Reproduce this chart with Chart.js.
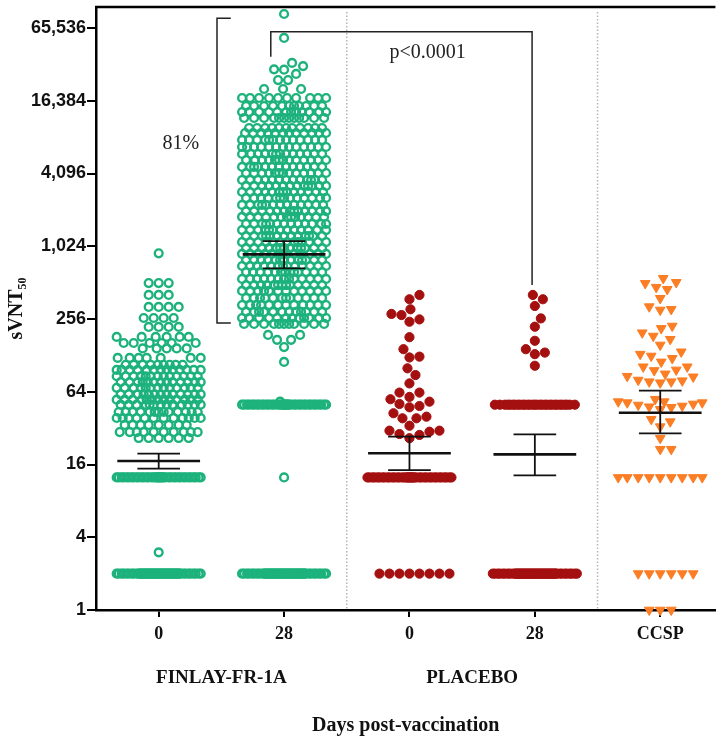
<!DOCTYPE html>
<html>
<head>
<meta charset="utf-8">
<script src="https://cdn.jsdelivr.net/npm/chart.js@4.4.0/dist/chart.umd.min.js"></script>
<style>
  html, body { margin: 0; padding: 0; background: #fff; }
</style>
</head>
<body>
<canvas id="chart" width="722" height="744"></canvas>
<script>
// === sVNT50 titres: [titre, subjects at that titre] ===
const groupTicks = ['0', '28', '0', '28', 'CCSP'];
const groupNames = ['FINLAY-FR-1A', 'PLACEBO'];
const yTicks = [1, 4, 16, 64, 256, 1024, 4096, 16384, 65536];

const finlay0 = [
  [895,1],[508,3],[405,3],[322,4],[261,4],[220,4],[182,6],[162,6],[146,5],[122,7],[107,9],
  [97,13],[86,13],[77,13],[69,13],[61,13],[55,13],[50,13],[43.5,13],[38.8,12],[34,8],
  [29.7,10],[26.5,6],[12.5,40],[3,1],[2,60]
];
const finlay28 = [
  [85600,1],[54200,1],[33700,1],[31700,1],[29800,1],[29600,1],[27300,1],[24300,2],[20500,3],
  [17270,10],[14830,11],[13220,12],[11800,12],[9750,11],[8860,12],[7760,13],[6790,13],
  [5940,13],[5300,13],[4640,13],[4136,13],[3620,13],[3230,13],[2880,13],[2570,13],[2250,13],
  [2000,13],[1790,13],[1565,13],[1395,13],[1245,13],[1110,13],[990,13],[884,13],[788,13],
  [703,13],[627,13],[549,13],[489,13],[437,12],[382,12],[334,12],[293,12],[261,12],[233,11],
  [189,2],[172,2],[150,1],[113,1],[53,1],[50,40],[12.5,1],[2,60]
];
const placebo0 = [
  [405,1],[373,1],[308,1],[282,1],[276,1],[254,1],[243,1],[181,1],[144,1],[125,1],[123,1],
  [100,1],[88,1],[75,1],[63,2],[58,1],[55.5,1],[53,1],[50.7,1],[48.8,1],[47.6,1],[42.5,1],
  [39.8,1],[38.6,2],[33.5,1],[30.5,2],[29.9,1],[28.6,1],[28.1,1],[26.4,1],[12.5,40],[2,8]
];
const placebo28 = [
  [405,1],[373,1],[328,1],[259,1],[221,1],[169,1],[144,1],[135,1],[131,1],[105,1],[50,30],[2,60]
];
const ccsp = [
  [556,1],[515,1],[505,1],[469,1],[451,1],[380,1],[324,1],[308,1],[304,1],[224,1],[214,1],
  [197,1],[185,1],[174,1],[156,1],[137,1],[131,1],[126.5,1],[121,1],[113,1],[103,2],[97,1],
  [96,1],[90,1],[86,1],[85,1],[80,1],[79,1],[77.5,2],[76,1],[55.5,1],[53,2],[52,2],[50.7,1],
  [49.7,1],[48.8,1],[48.1,1],[47.6,1],[45.8,1],[37.9,1],[36.2,1],[32.9,1],[26.4,1],[21.4,2],
  [12.5,9],[2,6],[1,3]
];

// geometric mean and 95% CI per column
const gmt = [17.1, 878, 19.8, 19.4, 42.9];
const ciLow = [14.8, 672, 14.4, 13.0, 29.0];
const ciHigh = [19.7, 1131, 27.2, 28.4, 65.3];

const green = '#1db27c', red = '#a40f0f', orange = '#fb7d24';
const serif = "'Liberation Serif', 'DejaVu Serif', serif";
const sans = "'Liberation Sans', Arial, sans-serif";

function makeSet(label, rows, idx, style) {
  const data = [];
  rows.forEach(([v, n]) => { for (let k = 0; k < n; k++) data.push({ x: idx + 1, y: v }); });
  return Object.assign({ label, data, clip: false }, style);
}

const ring = { pointStyle: 'circle', pointRadius: 3.9, borderWidth: 2.4, borderColor: green, backgroundColor: 'rgba(0,0,0,0)' };
const dot = { pointStyle: 'circle', pointRadius: 4.6, borderWidth: 1, borderColor: red, backgroundColor: red };
const tri = { pointStyle: 'triangle', rotation: 180, pointRadius: 5.6, borderWidth: 1, borderColor: orange, backgroundColor: orange };

function line(ctx, x1, y1, x2, y2) {
  ctx.beginPath(); ctx.moveTo(x1, y1); ctx.lineTo(x2, y2); ctx.stroke();
}

// === separators, frame, means, brackets ===
const overlay = {
  id: 'overlay',
  beforeDatasetsDraw(chart) {
    const { ctx, chartArea: a, scales: { x } } = chart;
    ctx.save();
    ctx.strokeStyle = '#b5b5b5';
    ctx.lineWidth = 1.5;
    ctx.setLineDash([1.5, 2]);
    [2.5, 4.5].forEach(v => { const px = x.getPixelForValue(v); line(ctx, px, a.top + 5, px, a.bottom); });
    ctx.restore();
  },
  afterDatasetsDraw(chart) {
    const { ctx, chartArea: a, scales: { x, y } } = chart;
    ctx.save();
    ctx.strokeStyle = '#000';
    ctx.lineWidth = 2.5;
    line(ctx, a.left - 1, a.top, a.right, a.top);

    // mean and error bars
    ctx.strokeStyle = '#111';
    gmt.forEach((m, i) => {
      const c = i + 1;
      const cx = x.getPixelForValue(c);
      const ym = y.getPixelForValue(m), yl = y.getPixelForValue(ciLow[i]), yh = y.getPixelForValue(ciHigh[i]);
      ctx.lineWidth = 2.6;
      line(ctx, x.getPixelForValue(c - 0.33), ym, x.getPixelForValue(c + 0.33), ym);
      ctx.lineWidth = 1.8;
      line(ctx, cx, yh, cx, yl);
      line(ctx, x.getPixelForValue(c - 0.17), yh, x.getPixelForValue(c + 0.17), yh);
      line(ctx, x.getPixelForValue(c - 0.17), yl, x.getPixelForValue(c + 0.17), yl);
    });

    // 81% bracket
    ctx.strokeStyle = '#222';
    ctx.lineWidth = 1.5;
    const bx = x.getPixelForValue(1.465), bx2 = x.getPixelForValue(1.575);
    const bt = y.getPixelForValue(79000), bb = y.getPixelForValue(237);
    ctx.beginPath();
    ctx.moveTo(bx2, bt); ctx.lineTo(bx, bt); ctx.lineTo(bx, bb); ctx.lineTo(bx2, bb);
    ctx.stroke();

    // p-value bracket
    const px1 = x.getPixelForValue(1.894), px2 = x.getPixelForValue(3.978);
    const pt = y.getPixelForValue(61100);
    ctx.beginPath();
    ctx.moveTo(px1, y.getPixelForValue(37950)); ctx.lineTo(px1, pt);
    ctx.lineTo(px2, pt); ctx.lineTo(px2, y.getPixelForValue(489));
    ctx.stroke();

    ctx.fillStyle = '#222';
    ctx.font = '20px ' + serif;
    ctx.textAlign = 'center';
    ctx.textBaseline = 'middle';
    ctx.fillText('81%', x.getPixelForValue(1.176), y.getPixelForValue(7280));
    ctx.fillText('p<0.0001', x.getPixelForValue(3.144), y.getPixelForValue(40700));
    ctx.restore();
  }
};

const chart = new Chart(document.getElementById('chart'), {
  type: 'scatter',
  data: {
    datasets: [
      makeSet('FINLAY-FR-1A day 0', finlay0, 0, ring),
      makeSet('FINLAY-FR-1A day 28', finlay28, 1, ring),
      makeSet('PLACEBO day 0', placebo0, 2, dot),
      makeSet('PLACEBO day 28', placebo28, 3, dot),
      makeSet('CCSP', ccsp, 4, tri)
    ]
  },
  options: {
    responsive: false,
    animation: false,
    events: [],
    layout: { padding: { top: 7, right: 0, bottom: 0, left: 0 } },
    plugins: { legend: { display: false }, tooltip: { enabled: false } },
    scales: {
      x: {
        type: 'linear', min: 0.5, max: 5.44, position: 'bottom', weight: 0,
        afterBuildTicks: ax => { ax.ticks = groupTicks.map((_, i) => ({ value: i + 1 })); },
        afterFit: ax => { ax.height = 41; },
        grid: { display: true, drawOnChartArea: false, drawTicks: true, tickLength: 7, color: '#000', lineWidth: 2 },
        border: { display: true, color: '#000', width: 2.5 },
        ticks: {
          autoSkip: false, maxRotation: 0, padding: 7, color: '#111',
          font: { family: serif, weight: 'bold', size: 18 },
          callback: v => groupTicks[v - 1]
        }
      },
      x2: {
        type: 'linear', min: 0.5, max: 5.44, position: 'bottom', weight: 1,
        afterBuildTicks: ax => { ax.ticks = groupNames.map((_, i) => ({ value: 1.5 + 2 * i })); },
        afterFit: ax => { ax.height = 93; },
        grid: { display: false, drawTicks: false },
        border: { display: false },
        ticks: {
          autoSkip: false, maxRotation: 0, padding: 16, color: '#111',
          font: { family: serif, weight: 'bold', size: 19 },
          callback: v => groupNames[(v - 1.5) / 2]
        },
        title: {
          display: true, text: 'Days post-vaccination', color: '#111',
          font: { family: serif, weight: 'bold', size: 20 },
          padding: { top: 6, bottom: 6 }
        }
      },
      y: {
        type: 'logarithmic', min: 1, max: 97800,
        afterBuildTicks: ax => { ax.ticks = yTicks.map(v => ({ value: v })); },
        afterFit: ax => { ax.width = 96; ax.paddingTop = 0; ax.paddingBottom = 0; },
        grid: { display: true, drawOnChartArea: false, drawTicks: true, tickLength: 9, color: '#000', lineWidth: 2 },
        border: { display: true, color: '#000', width: 2.5 },
        ticks: {
          padding: 1, color: '#111',
          font: { family: sans, weight: 'bold', size: 18 },
          callback: v => Number(v).toLocaleString('en-US')
        },
        title: {
          display: true, text: 'sVNT₅₀', color: '#111',
          font: { family: serif, weight: 'bold', size: 20 },
          padding: { top: 5, bottom: 0 }
        }
      }
    }
  },
  plugins: [overlay]
});

// === spread points sideways (beeswarm), capped at the mean-line width ===
function swarm(pys, gap, maxHalf) {
  const placed = [], out = [];
  pys.forEach(py => {
    let pick = null, bestGap = -1, bestDx = 0;
    for (let k = 0; k <= maxHalf * 2; k++) {
      const dx = (k % 2 ? 1 : -1) * Math.ceil(k / 2);
      let g = Infinity;
      for (const q of placed) {
        const dy = q.y - py;
        if (Math.abs(dy) >= gap) continue;
        const d = Math.hypot(q.x - dx, dy);
        if (d < g) g = d;
      }
      if (g >= gap) { pick = dx; break; }
      if (g > bestGap) { bestGap = g; bestDx = dx; }
    }
    if (pick === null) pick = bestDx;
    placed.push({ x: pick, y: py });
    out.push(pick);
  });
  return out;
}

const xs = chart.scales.x, ys = chart.scales.y;
const unit = xs.getPixelForValue(2) - xs.getPixelForValue(1);
chart.data.datasets.forEach((ds, i) => {
  const vals = ds.data.map(p => p.y).sort((a, b) => a - b);
  const offs = swarm(vals.map(v => ys.getPixelForValue(v)), i === 4 ? 11 : 10, 42);
  ds.data = vals.map((v, k) => ({ x: i + 1 + offs[k] / unit, y: v }));
});
chart.update('none');
</script>
</body>
</html>
